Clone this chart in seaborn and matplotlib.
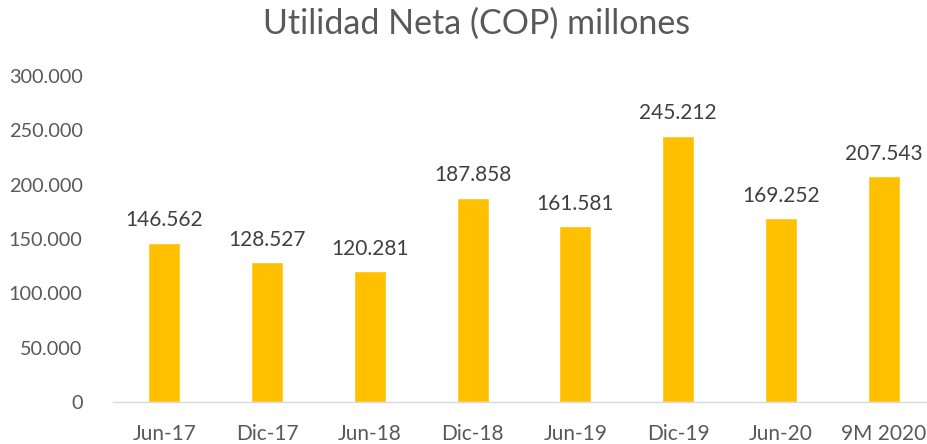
import matplotlib
matplotlib.use("Agg")
import matplotlib.pyplot as plt
import seaborn as sns
import pandas as pd
from matplotlib.ticker import FuncFormatter

categories = ["Jun-17", "Dic-17", "Jun-18", "Dic-18", "Jun-19", "Dic-19", "Jun-20", "9M 2020"]
values = [146562, 128527, 120281, 187858, 161581, 245212, 169252, 207543]
title = "Utilidad Neta (COP) millones"

sns.set_theme(style="white")
plt.rcParams['font.family'] = ['Lato', 'DejaVu Sans']
text_color = "#595959"

df = pd.DataFrame({"cat": categories, "val": values})

fig = plt.figure(figsize=(9.27, 4.44), dpi=100)
W, H = 927, 444
ax = fig.add_axes([113 / W, (H - 402) / H, (935 - 113) / W, (402 - 76) / H])

sns.barplot(data=df, x="cat", y="val", color="#FFC000", saturation=1, width=0.31, ax=ax)

def fmt(v):
    return f"{int(round(v)):,}".replace(",", ".")

ax.set_ylim(0, 300000)
ax.set_yticks(range(0, 300001, 50000))
ax.yaxis.set_major_formatter(FuncFormatter(lambda v, p: fmt(v)))
ax.set_xlabel("")
ax.set_ylabel("")
for s in ["top", "right", "left"]:
    ax.spines[s].set_visible(False)
ax.spines["bottom"].set_color("#D9D9D9")
ax.spines["bottom"].set_linewidth(1)
ax.tick_params(axis="x", length=0, labelsize=15, colors=text_color, pad=16)
ax.tick_params(axis="y", length=0, labelsize=14.3, colors=text_color, pad=22)

for p, v in zip(ax.patches, values):
    ax.annotate(fmt(v), (p.get_x() + p.get_width() / 2, p.get_height()),
                xytext=(0, 9), textcoords="offset points", ha="center", va="bottom",
                fontsize=15, color="#404040")

fig.text(477 / W, 1 - 24 / H, title, ha="center", va="center", fontsize=24.5, color=text_color)

fig.savefig("out.png", dpi=100)
